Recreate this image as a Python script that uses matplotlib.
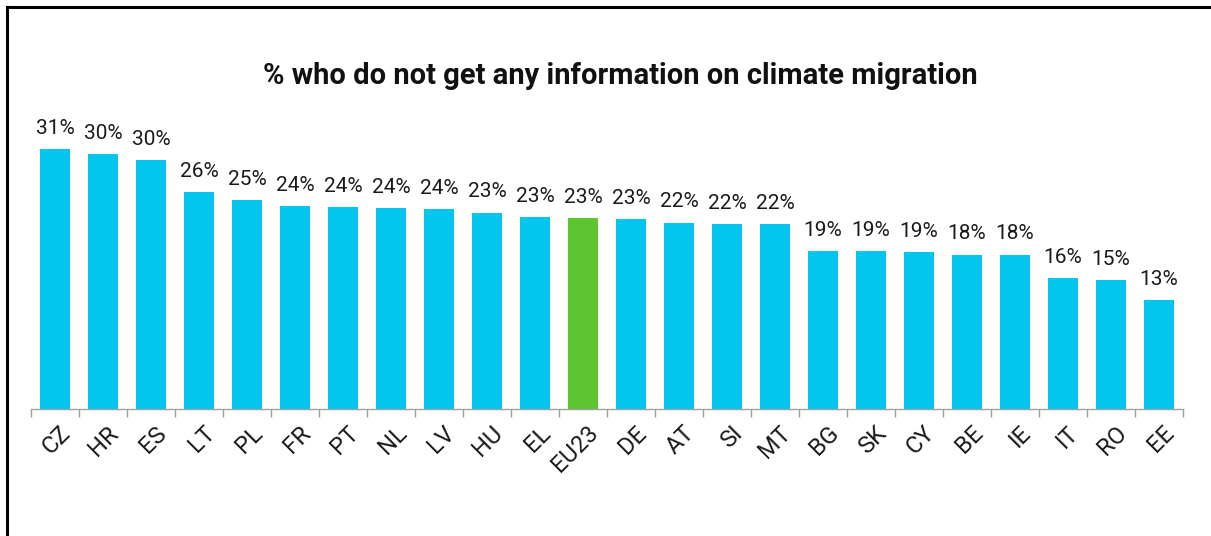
import matplotlib
matplotlib.use("Agg")
import matplotlib.pyplot as plt
from matplotlib.lines import Line2D
import numpy as np

# data
countries = ["CZ", "HR", "ES", "LT", "PL", "FR", "PT", "NL", "LV", "HU", "EL", "EU23",
             "DE", "AT", "SI", "MT", "BG", "SK", "CY", "BE", "IE", "IT", "RO", "EE"]
values = [31.0, 30.4, 29.6, 25.8, 24.9, 24.2, 24.0, 23.9, 23.8, 23.4, 22.9, 22.7,
          22.6, 22.2, 22.0, 22.0, 18.8, 18.8, 18.7, 18.4, 18.4, 15.6, 15.4, 13.0]
highlight = "EU23"
title = "% who do not get any information on climate migration"

plt.rcParams["font.family"] = ["Roboto", "DejaVu Sans"]

fig = plt.figure(figsize=(12.11, 5.36), dpi=100)
ax = fig.add_axes([31 / 1211, 127 / 536, 1152 / 1211, 309 / 536])

x = np.arange(len(countries))
colors = ["#5CC530" if c == highlight else "#00C5ED" for c in countries]
bars = ax.bar(x, values, width=0.625, color=colors, edgecolor="none")

for b, v in zip(bars, values):
    ax.annotate(f"{round(v)}%", (b.get_x() + b.get_width() / 2, v),
                xytext=(0, 8), textcoords="offset points",
                ha="center", va="bottom", fontsize=15, color="#1a1a1a")

ax.set_xlim(-0.5, len(countries) - 0.5)
ax.set_ylim(0, 36.8)
ax.set_yticks([])
for s in ["top", "right", "left"]:
    ax.spines[s].set_visible(False)
ax.spines["bottom"].set_color("#a0a0a0")
ax.spines["bottom"].set_linewidth(1)

# ticks between categories, labels under bars
ax.set_xticks(x + 0.08)
ax.set_xticklabels(countries, rotation=45, ha="right", rotation_mode="anchor",
                   fontsize=17, color="#1a1a1a")
ax.tick_params(axis="x", which="major", length=0, pad=9)
ax.set_xticks(np.arange(len(countries) + 1) - 0.5, minor=True)
ax.tick_params(axis="x", which="minor", length=6, color="#a0a0a0", width=1)

fig.text(620 / 1211, 1 - 76 / 536, title, ha="center", va="center",
         fontsize=21, fontweight="bold", color="#111111")

# frame lines (left and top only, as in the reference crop)
fig.add_artist(Line2D([7 / 1211, 7 / 1211], [0, 1 - 7 / 536], color="black", lw=2.2,
                      transform=fig.transFigure))
fig.add_artist(Line2D([7 / 1211, 1], [1 - 7 / 536, 1 - 7 / 536], color="black", lw=2.2,
                      transform=fig.transFigure))

fig.savefig("out.png", dpi=100)
